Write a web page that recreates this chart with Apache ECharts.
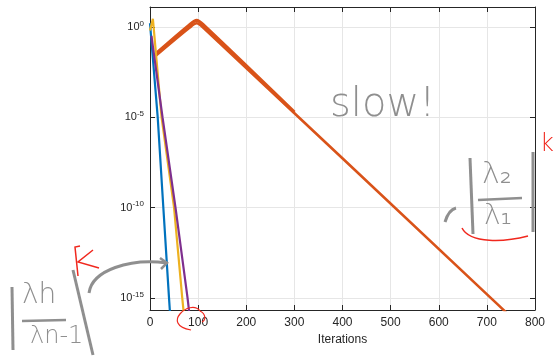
<!DOCTYPE html>
<html>
<head>
<meta charset="utf-8">
<script src="https://cdn.jsdelivr.net/npm/echarts@6/dist/echarts.min.js"></script>
<style>
  html, body { margin: 0; padding: 0; background: #fff; }
  #chart { width: 556px; height: 357px; }
</style>
</head>
<body>
<div id="chart"></div>
<script>
// values, y stored as log10 exponents
const blueIter = [0, 16, 27.7, 39.5, 41.5];
const blueExp = [0.2, -5, -10, -15, -15.8];

const yellowIter = [0, 6, 24, 50, 67, 70];
const yellowExp = [-0.2, 0.45, -5, -10, -15, -15.8];

const purpleIter = [3, 26, 53, 78, 81.5];
const purpleExp = [-0.5, -5, -10, -15, -15.8];

const redIter = [12, 82, 97, 112, 708, 740];
const redExp = [-1.6, -0.05, 0.2, -0.08, -15, -15.8];

// upper edge of the thick oscillating band around the peak
const redBandIter = [14, 82, 97, 112, 300];
const redBandExp = [-1.45, 0.1, 0.36, 0.08, -4.72];

const xTicks = [0, 100, 200, 300, 400, 500, 600, 700, 800];
const yTickExp = [-15, -10, -5, 0];

const toPairs = (xs, es) => xs.map((x, i) => [x, Math.pow(10, es[i])]);
const yTicks = yTickExp.map(e => Math.pow(10, e));

const font = 'Liberation Sans, Arial, sans-serif';
const axisColor = '#262626';
const handGrey = '#8f8f8f';
const handRed = '#f0281e';

let myChart = echarts.init(document.getElementById('chart'));

const lineSeries = (name, data, color, width, smooth) => ({
  name: name,
  type: 'line',
  data: data,
  symbol: 'none',
  smooth: smooth || false,
  animation: false,
  lineStyle: { color: color, width: width },
  z: 3
});

myChart.setOption({
  backgroundColor: '#ffffff',
  grid: { left: 150, right: 21, top: 7, bottom: 47, containLabel: false },
  xAxis: [
    {
      type: 'value',
      min: 0,
      max: 800,
      interval: 100,
      name: 'Iterations',
      nameLocation: 'middle',
      nameGap: 24,
      nameTextStyle: { color: axisColor, fontSize: 12, fontFamily: font },
      axisLine: { lineStyle: { color: axisColor, width: 1 } },
      axisTick: { inside: true, length: 5, lineStyle: { color: axisColor } },
      axisLabel: { color: axisColor, fontSize: 12, fontFamily: font, margin: 7 },
      splitLine: { show: true, lineStyle: { color: '#e6e6e6', width: 1 } }
    },
    {
      type: 'value',
      position: 'top',
      min: 0,
      max: 800,
      interval: 100,
      axisLine: { show: true, onZero: false, lineStyle: { color: axisColor, width: 1 } },
      axisTick: { show: true, inside: true, length: 5, lineStyle: { color: axisColor } },
      axisLabel: { show: false },
      splitLine: { show: false }
    }
  ],
  yAxis: [
    {
      type: 'log',
      logBase: 10,
      min: Math.pow(10, -15.67),
      max: Math.pow(10, 1.1),
      axisLine: { show: true, onZero: false, lineStyle: { color: axisColor, width: 1 } },
      axisTick: { show: true, inside: true, length: 5, customValues: yTicks, lineStyle: { color: axisColor } },
      axisLabel: {
        customValues: yTicks,
        margin: 6,
        formatter: v => {
          const e = Math.round(Math.log10(v));
          return '{b|10}{s|' + e + '}';
        },
        rich: {
          b: { color: axisColor, fontSize: 11, fontFamily: font },
          s: { color: axisColor, fontSize: 8, fontFamily: font, verticalAlign: 'top', padding: [0, 0, 7, 0] }
        }
      },
      splitLine: { show: true, lineStyle: { color: '#e6e6e6', width: 1 } }
    },
    {
      type: 'log',
      logBase: 10,
      position: 'right',
      min: Math.pow(10, -15.67),
      max: Math.pow(10, 1.1),
      axisLine: { show: true, onZero: false, lineStyle: { color: axisColor, width: 1 } },
      axisTick: { show: true, inside: true, length: 5, customValues: yTicks, lineStyle: { color: axisColor } },
      axisLabel: { show: false },
      splitLine: { show: false }
    }
  ],
  series: [
    lineSeries('band', toPairs(redBandIter, redBandExp), '#D95319', 3.4, 0.3),
    lineSeries('red', toPairs(redIter, redExp), '#D95319', 2.6, 0.3),
    lineSeries('blue', toPairs(blueIter, blueExp), '#0072BD', 2.2),
    lineSeries('yellow', toPairs(yellowIter, yellowExp), '#EDB120', 2.2),
    lineSeries('purple', toPairs(purpleIter, purpleExp), '#7E2F8E', 2.2)
  ],
  // handwritten notes drawn over the plot
  graphic: [
    {
      type: 'text', left: 330, top: 86, z: 10,
      style: { text: 'slow!', fill: handGrey, font: '200 40px "DejaVu Sans", sans-serif' }
    },
    // right note |λ2/λ1|^k
    { type: 'bezierCurve', z: 10, shape: { x1: 445, y1: 222, x2: 456, y2: 208, cpx1: 448, cpy1: 212, cpx2: 452, cpy2: 209 },
      style: { stroke: handGrey, lineWidth: 3, fill: null } },
    { type: 'line', z: 10, shape: { x1: 470, y1: 158, x2: 473, y2: 234 }, style: { stroke: handGrey, lineWidth: 3 } },
    { type: 'line', z: 10, shape: { x1: 533, y1: 152, x2: 533, y2: 232 }, style: { stroke: handGrey, lineWidth: 3 } },
    { type: 'text', left: 482, top: 160, z: 10, style: { text: 'λ₂', fill: handGrey, font: '300 30px "DejaVu Sans", sans-serif' } },
    { type: 'line', z: 10, shape: { x1: 478, y1: 200, x2: 522, y2: 198 }, style: { stroke: handGrey, lineWidth: 2.5 } },
    { type: 'text', left: 484, top: 203, z: 10, style: { text: 'λ₁', fill: handGrey, font: '300 28px "DejaVu Sans", sans-serif' } },
    { type: 'bezierCurve', z: 10, shape: { x1: 462, y1: 228, x2: 528, y2: 236, cpx1: 470, cpy1: 244, cpx2: 505, cpy2: 242 },
      style: { stroke: handRed, lineWidth: 1.5, fill: null } },
    { type: 'text', left: 540, top: 133, z: 10, style: { text: 'k', fill: handRed, font: '300 24px "DejaVu Sans", sans-serif' } },
    // left note |λn/λn-1|
    { type: 'line', z: 10, shape: { x1: 12, y1: 287, x2: 13, y2: 350 }, style: { stroke: handGrey, lineWidth: 3 } },
    { type: 'line', z: 10, shape: { x1: 73, y1: 270, x2: 93, y2: 355 }, style: { stroke: handGrey, lineWidth: 3 } },
    { type: 'text', left: 22, top: 282, z: 10, style: { text: 'λh', fill: handGrey, font: '300 28px "DejaVu Sans", sans-serif' } },
    { type: 'line', z: 10, shape: { x1: 22, y1: 321, x2: 66, y2: 320 }, style: { stroke: handGrey, lineWidth: 2.5 } },
    { type: 'text', left: 30, top: 325, z: 10, style: { text: 'λn-1', fill: handGrey, font: '300 24px "DejaVu Sans", sans-serif' } },
    { type: 'bezierCurve', z: 10, shape: { x1: 89, y1: 293, x2: 167, y2: 263, cpx1: 92, cpy1: 270, cpx2: 130, cpy2: 258 },
      style: { stroke: handGrey, lineWidth: 3, fill: null } },
    { type: 'polyline', z: 10, shape: { points: [[160, 258], [167, 263], [161, 269]] }, style: { stroke: handGrey, lineWidth: 2.5, fill: null } },
    { type: 'polyline', z: 10, shape: { points: [[80, 246], [75, 247], [78, 276]] }, style: { stroke: handRed, lineWidth: 1.5, fill: null } },
    { type: 'polyline', z: 10, shape: { points: [[93, 250], [78, 262], [99, 268]] }, style: { stroke: handRed, lineWidth: 1.5, fill: null } },
    // red loop around the fast curves
    { type: 'bezierCurve', z: 10, shape: { x1: 200, y1: 311, x2: 191, y2: 330, cpx1: 190, cpy1: 298, cpx2: 160, cpy2: 325 },
      style: { stroke: handRed, lineWidth: 1.2, fill: null } },
    { type: 'bezierCurve', z: 10, shape: { x1: 200, y1: 311, x2: 202, y2: 322, cpx1: 206, cpy1: 314, cpx2: 206, cpy2: 320 },
      style: { stroke: handRed, lineWidth: 1.2, fill: null } }
  ]
});
</script>
</body>
</html>
